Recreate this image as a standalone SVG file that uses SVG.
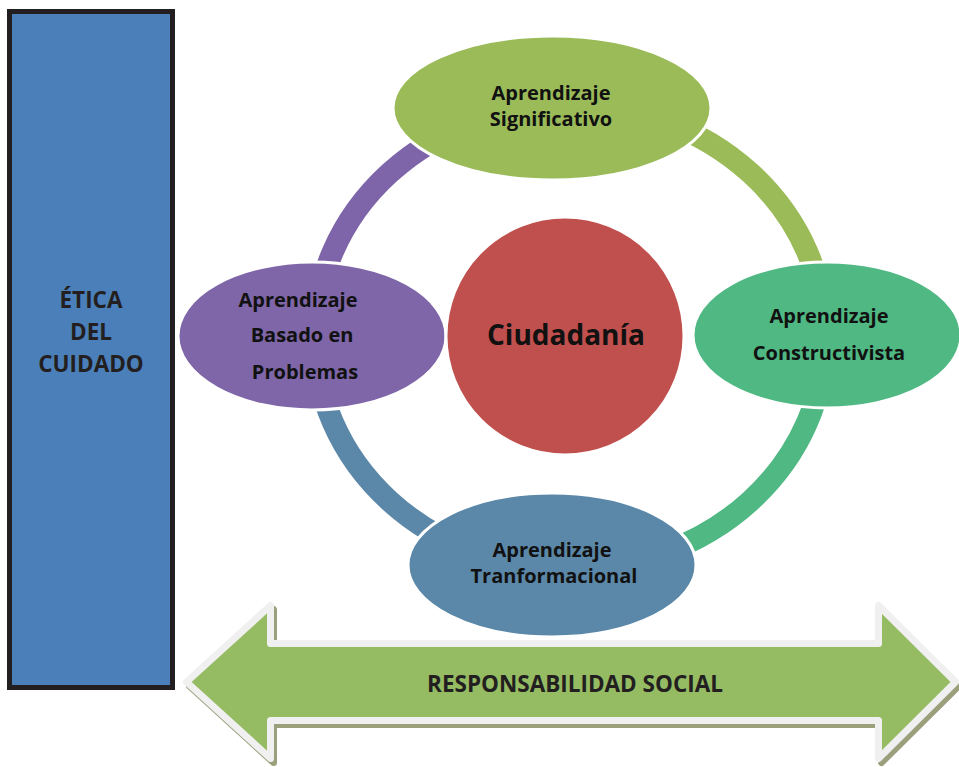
<svg xmlns="http://www.w3.org/2000/svg" width="959" height="767" viewBox="0 0 959 767">
  <style>
    .lbl { font-family: "Open Sans", "Noto Sans", "DejaVu Sans", sans-serif; font-weight: 700; fill: #111; text-anchor: middle; }
    .node { font-size: 20px; }
    .side { font-size: 22.5px; fill: #231f20; }
    .ring { fill: none; stroke-width: 22; }
    .bubble { stroke: #ffffff; stroke-width: 3; }
  </style>
  <defs>
    <polygon id="arrowShape" points="186.5,682 270.5,605.5 270.5,643.5 878.5,643.5 878.5,605.5 955.5,682 878.5,758.5 878.5,720.5 270.5,720.5 270.5,758.5"/>
  </defs>

  <!-- left vertical bar -->
  <g id="etica">
    <rect x="9.5" y="11.5" width="163" height="676" fill="#4a7fba" stroke="#231f20" stroke-width="5"/>
    <text class="lbl side" x="91" y="308">ÉTICA</text>
    <text class="lbl side" x="91" y="340">DEL</text>
    <text class="lbl side" x="91" y="372">CUIDADO</text>
  </g>

  <!-- ring segments linking the four bubbles -->
  <g id="connectors">
    <path class="ring" stroke="#7e64a8" d="M315,337 A255,232 0 0 1 570,105"/>
    <path class="ring" stroke="#9bbb59" d="M570,105 A255,232 0 0 1 825,337"/>
    <path class="ring" stroke="#4fb883" d="M825,337 A255,232 0 0 1 570,569"/>
    <path class="ring" stroke="#5b88a8" d="M570,569 A255,232 0 0 1 315,337"/>
  </g>

  <g id="significativo">
    <ellipse class="bubble" cx="552" cy="108" rx="159" ry="72" fill="#9bbb59"/>
    <text class="lbl node" x="551" y="100">Aprendizaje</text>
    <text class="lbl node" x="551" y="126">Significativo</text>
  </g>

  <g id="constructivista">
    <ellipse class="bubble" cx="827" cy="335" rx="134" ry="73" fill="#4fb883"/>
    <text class="lbl node" x="829" y="323">Aprendizaje</text>
    <text class="lbl node" x="829" y="360">Constructivista</text>
  </g>

  <g id="transformacional">
    <ellipse class="bubble" cx="552" cy="565" rx="144" ry="72" fill="#5b88a8"/>
    <text class="lbl node" x="552" y="557">Aprendizaje</text>
    <text class="lbl node" x="554" y="583">Tranformacional</text>
  </g>

  <g id="problemas">
    <ellipse class="bubble" cx="312" cy="336" rx="134" ry="74" fill="#7e66a8"/>
    <text class="lbl node" x="298" y="307">Aprendizaje</text>
    <text class="lbl node" x="302" y="342">Basado en</text>
    <text class="lbl node" x="305" y="379">Problemas</text>
  </g>

  <g id="ciudadania">
    <circle class="bubble" cx="565" cy="336" r="119" fill="#c0504d"/>
    <text class="lbl" x="566" y="345" font-size="28">Ciudadanía</text>
  </g>

  <!-- double-headed arrow along the bottom -->
  <g id="responsabilidad">
    <use href="#arrowShape" transform="translate(3,4)" fill="#9c9f7c" stroke="#9c9f7c" stroke-width="7" stroke-linejoin="round"/>
    <use href="#arrowShape" fill="#95bb63" stroke="#f0f0f0" stroke-width="7" stroke-linejoin="round"/>
    <text class="lbl side" x="575" y="692" font-size="21">RESPONSABILIDAD SOCIAL</text>
  </g>
</svg>
